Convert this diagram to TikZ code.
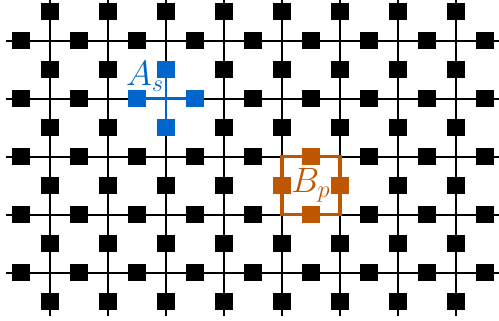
\documentclass[tikz,border=0pt]{standalone}
\usetikzlibrary{positioning}
\usepackage{xcolor}
\definecolor{StarBlue}{RGB}{0,102,204}
\definecolor{PlaqOrange}{RGB}{191,87,0}
\tikzset{
  qubit/.style={draw=none, fill=black, minimum size=0.3cm, inner sep=0pt},
  starqubit/.style={qubit, fill=StarBlue},
  plaqqubit/.style={qubit, fill=PlaqOrange},
  bond/.style={line width=1pt, black},
  starline/.style={line width=1.2pt, StarBlue},
  plaqline/.style={line width=1.7pt, PlaqOrange},
  opname/.style={font=\LARGE, inner sep=0pt}
}

\begin{document}
\begin{tikzpicture}
  \useasboundingbox (-0.862,0.7) rectangle (7.741,-4.834);
  \clip (-0.862,0.7) rectangle (7.741,-4.834);
  % lattice bonds
  \foreach \j in {0,...,4}
    \draw[bond] (-0.75,-\j) -- (7.75,-\j);
  \foreach \i in {0,...,7}
    \draw[bond] (\i,0.75) -- (\i,-4.75);
  % qubits on horizontal and vertical edges
  \foreach \i in {0,...,8}
    \foreach \j in {0,...,4}
      \node[qubit] (h-\i-\j) at (\i-0.5,-\j) {};
  \foreach \i in {0,...,7}
    \foreach \j in {0,...,5}
      \node[qubit] (v-\i-\j) at (\i,0.5-\j) {};
  % star operator
  \draw[starline] (h-2-1.center) -- (h-3-1.center);
  \draw[starline] (v-2-1.center) -- (v-2-2.center);
  \node[starqubit] (As-l) at (h-2-1) {};
  \node[starqubit] (As-r) at (h-3-1) {};
  \node[starqubit] (As-t) at (v-2-1) {};
  \node[starqubit] (As-b) at (v-2-2) {};
  \node[opname, text=StarBlue] (As) at (1.64,-0.62) {$A_s$};
  % plaquette operator
  \draw[plaqline] (v-4-3 |- h-5-2) rectangle (v-5-3 |- h-5-3);
  \node[plaqqubit] (Bp-t) at (h-5-2) {};
  \node[plaqqubit] (Bp-b) at (h-5-3) {};
  \node[plaqqubit] (Bp-l) at (v-4-3) {};
  \node[plaqqubit] (Bp-r) at (v-5-3) {};
  \node[opname, text=PlaqOrange] (Bp) at (4.5,-2.5) {$B_p$};
\end{tikzpicture}
\end{document}
